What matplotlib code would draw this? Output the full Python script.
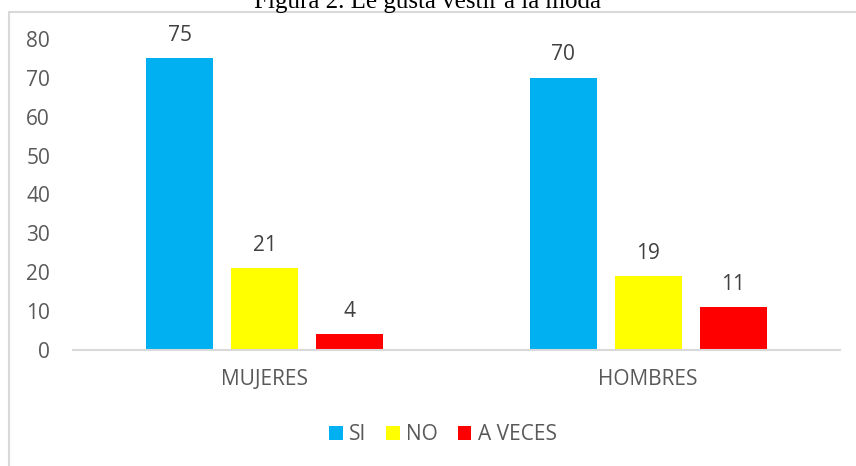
import numpy as np
import matplotlib.pyplot as plt
from matplotlib.patches import Rectangle

categories = ["MUJERES", "HOMBRES"]
series_names = ["SI", "NO", "A VECES"]
si_values = [75, 70]
no_values = [21, 19]
aveces_values = [4, 11]

colors = ["#00B0F0", "#FFFF00", "#FF0000"]
text_color = "#595959"

plt.rcParams["font.family"] = ["Open Sans", "DejaVu Sans"]

fig = plt.figure(figsize=(8.56, 4.66), dpi=100)
W, H = 856, 466

# chart border (cropped on the right and bottom)
fig.patches.append(Rectangle((9 / W, -0.1), 1.2, (H - 12) / H + 0.1,
                             transform=fig.transFigure, fill=False,
                             edgecolor="#D9D9D9", linewidth=1.5))

fig.text(428 / W, 1 - 8 / H, "Figura 2. Le gusta vestir a la moda",
         ha="center", va="baseline", family="Liberation Serif", fontsize=18)

ax = fig.add_axes([73 / W, 116 / H, 767 / W, 311 / H])

x = np.arange(len(categories))
width = 0.175
step = 0.2216
fs = 15
for i, (name, vals) in enumerate(zip(series_names, [si_values, no_values, aveces_values])):
    bars = ax.bar(x + (i - 1) * step, vals, width, color=colors[i], label=name)
    for b, v in zip(bars, vals):
        ax.annotate(str(v), (b.get_x() + b.get_width() / 2, v), xytext=(0, 9),
                    textcoords="offset points", ha="center", va="bottom",
                    fontsize=fs, color="#404040")

ax.set_xlim(-0.5, 1.5)
ax.set_ylim(0, 80)
ax.set_yticks(range(0, 81, 10))
ax.set_xticks(x)
ax.set_xticklabels(categories)
ax.tick_params(length=0, labelsize=fs, colors=text_color)
ax.tick_params(axis="y", pad=16.5)
ax.tick_params(axis="x", pad=14)
for s in ["top", "right", "left"]:
    ax.spines[s].set_visible(False)
ax.spines["bottom"].set_color("#D9D9D9")
ax.spines["bottom"].set_linewidth(1.5)

leg = fig.legend(loc="center", bbox_to_anchor=(443 / W, 1 - 435 / H), ncol=3,
                 frameon=False, fontsize=fs, handlelength=0.65, handleheight=0.65,
                 handletextpad=0.3, columnspacing=0.95)
for t in leg.get_texts():
    t.set_color(text_color)

fig.savefig("out.png", dpi=100)
